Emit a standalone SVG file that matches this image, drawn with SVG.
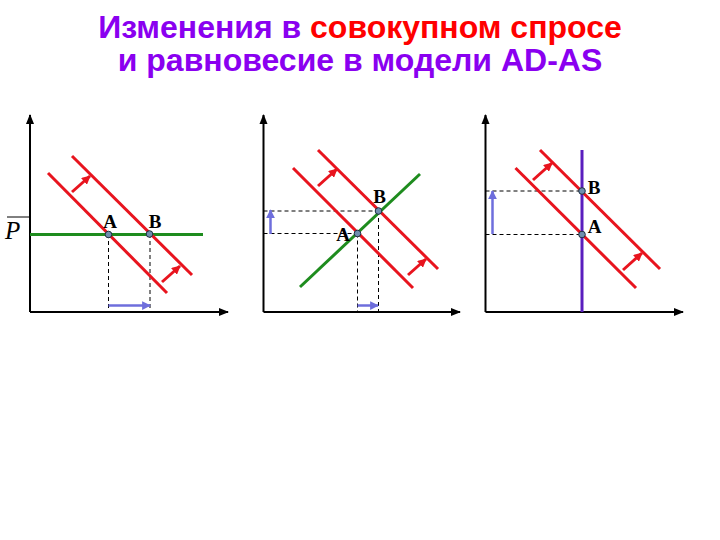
<svg xmlns="http://www.w3.org/2000/svg" width="720" height="540" viewBox="0 0 720 540">
<defs>
<style>
.title{font-family:"Liberation Sans",Arial,sans-serif;font-weight:bold;font-size:32px;fill:#8A00F0}
.red{fill:#FF0000}
.lbl{font-family:"Liberation Serif","Times New Roman",serif;font-weight:bold;font-size:19px;fill:#000}
.axis{stroke:#000;stroke-width:2;fill:none}
.ad{stroke:#E8141E;stroke-width:3;fill:none}
.as{stroke:#1E8C1E;stroke-width:3;fill:none}
.las{stroke:#5A1EBE;stroke-width:3;fill:none}
.dash{stroke:#000;stroke-width:1;stroke-dasharray:4,3;fill:none}
.shift{stroke:#E8141E;stroke-width:3;fill:none;marker-end:url(#rh)}
.blue{stroke:#6E6EDC;stroke-width:2.5;fill:none;marker-end:url(#bh)}
.pt{fill:#6F8FAF;stroke:#203040;stroke-width:1}
</style>
<marker id="ah" viewBox="0 0 10 10" refX="9" refY="5" markerWidth="5" markerHeight="5" orient="auto" markerUnits="strokeWidth"><path d="M0,1 L10,5 L0,9 Z" fill="#000"/></marker>
<marker id="rh" viewBox="0 0 10 10" refX="9" refY="5" markerWidth="3" markerHeight="3" orient="auto" markerUnits="strokeWidth"><path d="M0,0 L10,5 L0,10 Z" fill="#E8141E"/></marker>
<marker id="bh" viewBox="0 0 10 10" refX="9" refY="5" markerWidth="3.5" markerHeight="3.5" orient="auto" markerUnits="strokeWidth"><path d="M0,0 L10,5 L0,10 Z" fill="#6E6EDC"/></marker>
</defs>
<rect width="720" height="540" fill="#fff"/>
<g id="title">
<text class="title" x="360" y="38" text-anchor="middle">Изменения в <tspan class="red">совокупном спросе</tspan></text>
<text class="title" x="360" y="71" text-anchor="middle">и равновесие в модели AD-AS</text>
</g>
<g id="panel1">
<line class="axis" x1="30" y1="312" x2="30" y2="115" marker-end="url(#ah)"/>
<line class="axis" x1="30" y1="312" x2="228" y2="312" marker-end="url(#ah)"/>
<line x1="7" y1="217" x2="29" y2="217" stroke="#000" stroke-width="1"/>
<text x="5" y="239" font-family="Liberation Serif,'Times New Roman',serif" font-style="italic" font-size="25">P</text>
<line class="dash" x1="108.5" y1="234" x2="108.5" y2="312"/>
<line class="dash" x1="150" y1="234" x2="150" y2="312"/>
<line class="as" x1="30" y1="234.5" x2="203" y2="234.5"/>
<line class="ad" x1="48" y1="173" x2="167" y2="293"/>
<line class="ad" x1="72" y1="156" x2="192" y2="275"/>
<line class="shift" x1="72" y1="192" x2="90" y2="176"/>
<line class="shift" x1="162" y1="282" x2="180" y2="266"/>
<line class="blue" x1="108.5" y1="305.5" x2="150" y2="305.5"/>
<circle class="pt" cx="108.5" cy="234.5" r="3.3"/>
<circle class="pt" cx="149.5" cy="234" r="3.3"/>
<text class="lbl" x="110" y="228" text-anchor="middle">A</text>
<text class="lbl" x="155" y="228" text-anchor="middle">B</text>
</g>
<g id="panel2">
<line class="axis" x1="263.5" y1="312" x2="263.5" y2="115" marker-end="url(#ah)"/>
<line class="axis" x1="263.5" y1="312" x2="460" y2="312" marker-end="url(#ah)"/>
<line class="dash" x1="263.5" y1="211" x2="378.5" y2="211"/>
<line class="dash" x1="263.5" y1="233.5" x2="357.5" y2="233.5"/>
<line class="dash" x1="357.5" y1="233.5" x2="357.5" y2="312"/>
<line class="dash" x1="378.5" y1="211" x2="378.5" y2="312"/>
<line class="ad" x1="293" y1="168" x2="413" y2="288"/>
<line class="ad" x1="318" y1="150" x2="438" y2="269"/>
<line class="as" x1="300" y1="287" x2="420" y2="174"/>
<line class="shift" x1="318" y1="186" x2="337" y2="169"/>
<line class="shift" x1="408" y1="275" x2="426" y2="259"/>
<line class="blue" x1="270.5" y1="234" x2="270.5" y2="210"/>
<line class="blue" x1="357.5" y1="305.5" x2="378" y2="305.5"/>
<circle class="pt" cx="357.5" cy="233.5" r="3.3"/>
<circle class="pt" cx="378.5" cy="211" r="3.3"/>
<text class="lbl" x="343" y="241" text-anchor="middle">A</text>
<text class="lbl" x="379.5" y="203" text-anchor="middle">B</text>
</g>
<g id="panel3">
<line class="axis" x1="485.5" y1="312" x2="485.5" y2="115" marker-end="url(#ah)"/>
<line class="axis" x1="485.5" y1="312" x2="683" y2="312" marker-end="url(#ah)"/>
<line class="dash" x1="485.5" y1="191" x2="582" y2="191"/>
<line class="dash" x1="485.5" y1="234.5" x2="582" y2="234.5"/>
<line class="las" x1="582" y1="150" x2="582" y2="312"/>
<line class="ad" x1="515.5" y1="168" x2="636" y2="288"/>
<line class="ad" x1="540" y1="150" x2="660" y2="269"/>
<line class="shift" x1="533" y1="180" x2="552" y2="163"/>
<line class="shift" x1="623" y1="270" x2="642" y2="253"/>
<line class="blue" x1="492.5" y1="234" x2="492.5" y2="191"/>
<circle class="pt" cx="582" cy="191" r="3.3"/>
<circle class="pt" cx="582" cy="234.5" r="3.3"/>
<text class="lbl" x="594" y="194" text-anchor="middle">B</text>
<text class="lbl" x="594.5" y="233" text-anchor="middle">A</text>
</g>
</svg>
